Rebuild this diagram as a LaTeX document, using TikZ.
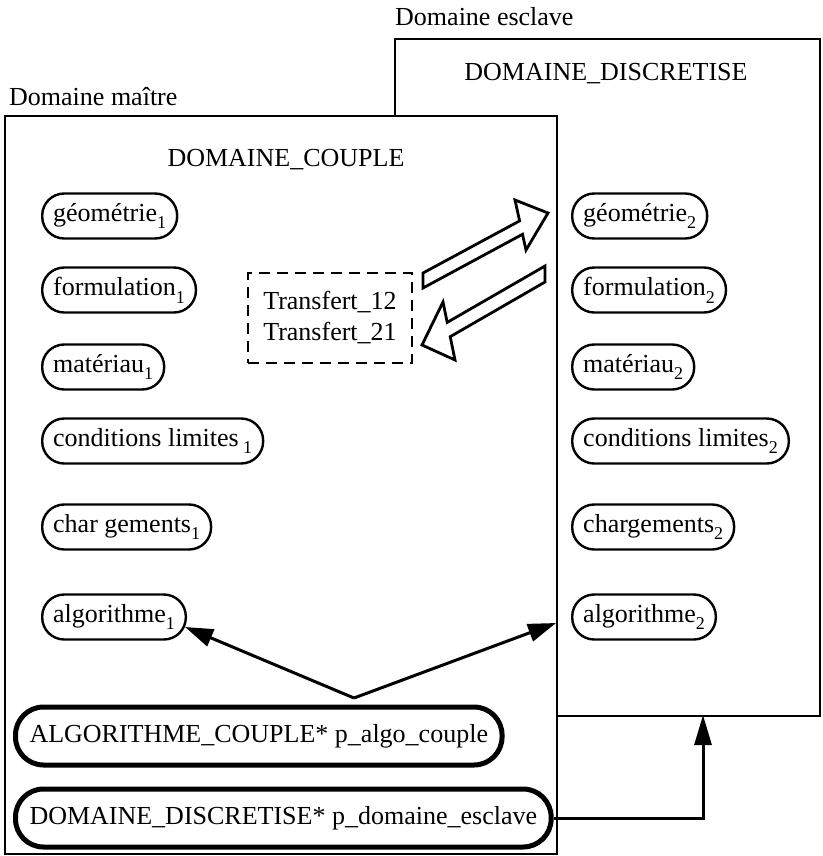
\documentclass[tikz,border=0pt]{standalone}
\usepackage{fontspec}
\setmainfont{Liberation Serif}
\usetikzlibrary{arrows.meta,calc}

% lowered index after a field name
\newcommand\ix[1]{\raisebox{-0.3em}{\fontsize{18}{18}\selectfont #1}}

\begin{document}
\begin{tikzpicture}[x=1pt,y=-1pt,
  every node/.style={font=\fontsize{26}{31}\selectfont},
  frame/.style={draw,line width=2.4pt,fill=white,anchor=north west,inner sep=0pt},
  title/.style={inner sep=0pt,anchor=base},
  pill/.style={draw,line width=2.4pt,rounded corners=22pt,minimum height=45pt,
    inner xsep=11pt,inner ysep=0pt,anchor=west},
  bigpill/.style={draw,line width=5pt,rounded corners=28pt,minimum height=58pt,
    inner xsep=14pt,inner ysep=0pt,anchor=west},
  hollow/.style={draw,line width=2.8pt,fill=white,line join=miter},
  link/.style={line width=3pt,-{Triangle[length=28pt,width=18pt]}}
]
\useasboundingbox (0,0) rectangle (822,856);

% slave domain (behind)
\node[frame,minimum width=425pt,minimum height=677pt] (slave) at (394,38) {};
\node[title,anchor=base west] (slavelbl) at (395,26) {Domaine esclave};
\node[title] (slavetitle) at (606,81) {DOMAINE\_DISCRETISE};

% master domain (in front)
\node[frame,minimum width=552pt,minimum height=738pt] (master) at (4,115) {};
\node[title,anchor=base west] (masterlbl) at (9,106) {Domaine ma\^itre};
\node[title] (mastertitle) at (286,166) {DOMAINE\_COUPLE};

% master fields
\node[pill] (geo1) at (41,216) {g\'eom\'etrie\ix{1}};
\node[pill] (form1) at (41,290) {formulation\ix{1}};
\node[pill] (mat1) at (41,367) {mat\'eriau\ix{1}};
\node[pill] (cl1) at (41,441) {conditions limites\,\ix{1}};
\node[pill] (ch1) at (41,527) {char gements\ix{1}};
\node[pill] (alg1) at (41,617) {algorithme\ix{1}};

% slave fields
\node[pill] (geo2) at (571,216) {g\'eom\'etrie\ix{2}};
\node[pill] (form2) at (571,290) {formulation\ix{2}};
\node[pill] (mat2) at (571,367) {mat\'eriau\ix{2}};
\node[pill] (cl2) at (571,441) {conditions limites\ix{2}};
\node[pill] (ch2) at (571,527) {chargements\ix{2}};
\node[pill] (alg2) at (571,617) {algorithme\ix{2}};

% transfer operators
\node[draw,line width=2.4pt,dash pattern=on 11pt off 7pt,minimum width=164pt,
  minimum height=90pt,align=left,inner sep=0pt] (xfer) at (330,318)
  {Transfert\_12\\Transfert\_21};

% exchange arrows
\draw[hollow] (423,273) -- (519.6,220.9) -- (515,200) -- (548,213)
  -- (526,250) -- (522.5,234.3) -- (423,288) -- cycle;
\draw[hollow] (545,266) -- (447.2,322.4) -- (443,302) -- (422,345)
  -- (455,360) -- (450.2,336.7) -- (545,282) -- cycle;

% pointers
\node[bigpill] (algc) at (13,736) {ALGORITHME\_COUPLE* p\_algo\_couple};
\node[bigpill] (dom) at (13,818) {DOMAINE\_DISCRETISE* p\_domaine\_esclave};

\coordinate (fork) at (354,698);
\coordinate (slavein) at (556,623);
\coordinate (slavefoot) at (703,715);
\draw[link] (fork) -- ($(alg1.east)+(-2,10)$);
\draw[link] (fork) -- (slavein);
\draw[line width=3pt,-{Triangle[length=30pt,width=17pt]}] (dom.east) -| (slavefoot);
\end{tikzpicture}
\end{document}
